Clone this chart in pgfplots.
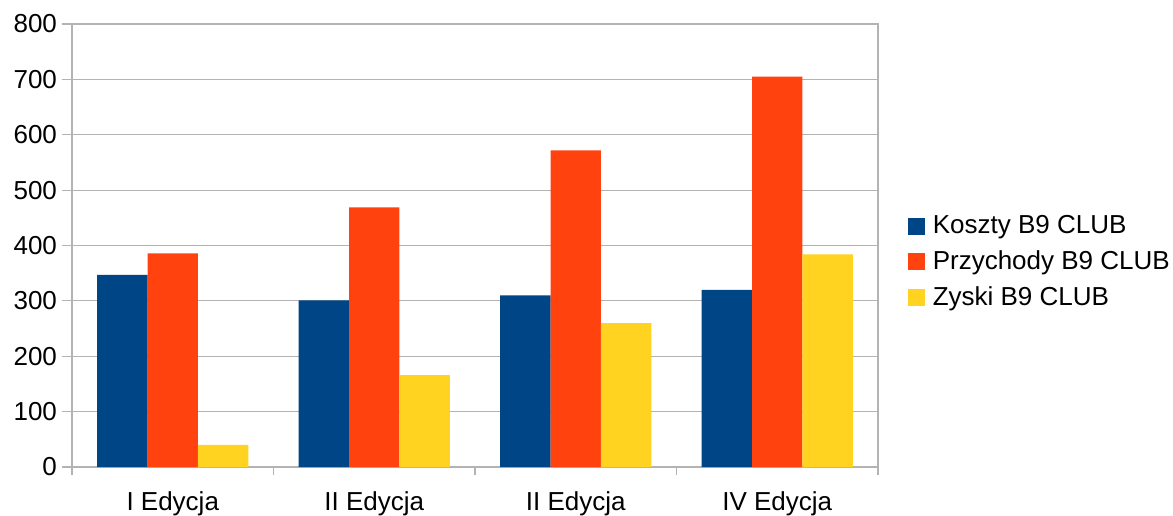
\documentclass[border=0pt]{standalone}
\usepackage{pgfplots}
\pgfplotsset{compat=1.18}
\usepackage{fontspec}
\setmainfont{Liberation Sans}
\definecolor{koszty}{HTML}{004586}
\definecolor{przych}{HTML}{FF420E}
\definecolor{zyski}{HTML}{FFD320}
\definecolor{gridgray}{HTML}{B3B3B3}
\newcommand{\chartfont}{\fontsize{13}{15.6}\selectfont}

\begin{document}
\begin{tikzpicture}
\begin{axis}[
    name=ax,
    scale only axis,
    width=403pt, height=221.5pt,
    ybar=0pt, bar width=0.25,
    xmin=-0.5, xmax=3.5,
    ymin=0, ymax=800,
    xtick={0,1,2,3},
    xticklabels={I Edycja, II Edycja, II Edycja, IV Edycja},
    minor xtick={-0.5,0.5,1.5,2.5,3.5},
    major x tick style={draw=none},
    ytick={0,100,...,800},
    xtick pos=left, ytick pos=left,
    tick align=outside,
    major tick length=5pt, minor tick length=4pt,
    tick style={gridgray, line width=0.6pt},
    ymajorgrids,
    grid style={gridgray, line width=0.6pt},
    axis line style={gridgray, line width=0.6pt},
    tick label style={font=\chartfont, black},
    /pgf/number format/assume math mode=true,
    yticklabel style={xshift=1pt},
    xticklabel style={yshift=-4pt},
    legend style={at={(1.029,0.463)}, anchor=west, draw=none, fill=none,
        font=\chartfont, row sep=3pt},
    legend cell align=left,
]
\addplot[fill=koszty, draw=none, bar shift=-0.25,
    legend image code/.code={\fill[koszty] (0pt,-4.25pt) rectangle (8.5pt,4.25pt); \path (10.5pt,0pt);}]
    coordinates {(0,347) (1,301) (2,310) (3,320)};
\addlegendentry{Koszty B9 CLUB}
\addplot[fill=przych, draw=none, bar shift=0,
    legend image code/.code={\fill[przych] (0pt,-4.25pt) rectangle (8.5pt,4.25pt); \path (10.5pt,0pt);}]
    coordinates {(0,386) (1,469) (2,572) (3,705)};
\addlegendentry{Przychody B9 CLUB}
\addplot[fill=zyski, draw=none, bar shift=0.25,
    legend image code/.code={\fill[zyski] (0pt,-4.25pt) rectangle (8.5pt,4.25pt); \path (10.5pt,0pt);}]
    coordinates {(0,40) (1,166) (2,260) (3,384)};
\addlegendentry{Zyski B9 CLUB}
\end{axis}
\pgfresetboundingbox
\path[use as bounding box] (ax.south west) ++(-36pt,-24pt) rectangle ++(586.5pt,257.5pt);
\end{tikzpicture}
\end{document}
